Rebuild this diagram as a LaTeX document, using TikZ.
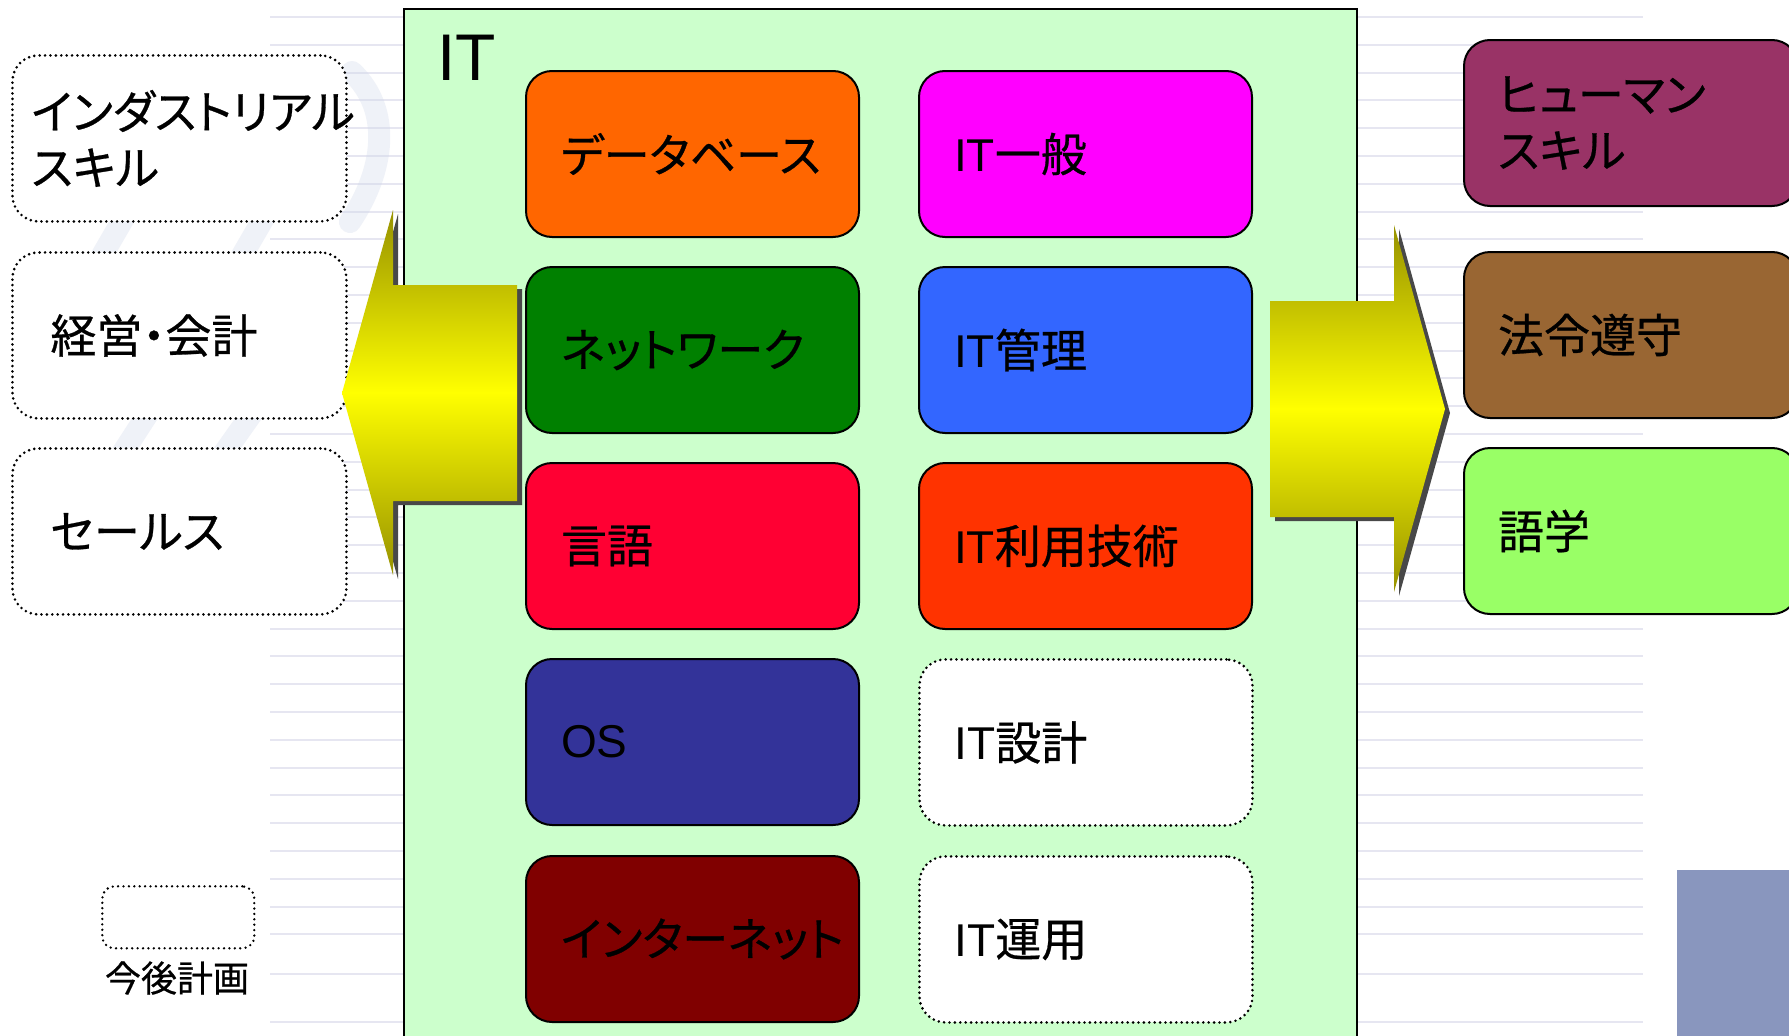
\documentclass[tikz,border=0pt]{standalone}
\usepackage{fontspec}
\setmainfont{Liberation Sans}
\newfontfamily\jp[RawFeature=+palt, FakeBold=0.6]{Noto Sans CJK JP}
\definecolor{itbg}{RGB}{204,255,204}
\definecolor{cdb}{RGB}{255,102,0}
\definecolor{cgen}{RGB}{255,0,255}
\definecolor{cnet}{RGB}{0,128,0}
\definecolor{cmgmt}{RGB}{51,102,255}
\definecolor{clang}{RGB}{255,0,51}
\definecolor{cuse}{RGB}{255,51,0}
\definecolor{cos}{RGB}{51,51,153}
\definecolor{cinet}{RGB}{128,0,0}
\definecolor{chuman}{RGB}{153,51,102}
\definecolor{claw}{RGB}{153,102,51}
\definecolor{cling}{RGB}{153,255,102}
\definecolor{bgline}{RGB}{230,230,241}
\definecolor{swoosh}{RGB}{205,214,232}
\definecolor{arrdark}{RGB}{150,145,0}
\definecolor{arrshadow}{RGB}{72,72,72}
\definecolor{cornerblue}{RGB}{137,150,190}
\newcommand\boxfs{\fontsize{46}{56}\selectfont}
\begin{document}
\begin{tikzpicture}[x=1pt,y=-1pt,
  skillbox/.style={line width=2pt, rounded corners=26pt, minimum width=333pt,
    minimum height=166pt, text width=263pt, inner xsep=35pt, inner ysep=0pt,
    align=left, font=\boxfs, anchor=north west},
  solidbox/.style={skillbox, draw=black},
  planbox/.style={skillbox, draw=black, fill=white, dash pattern=on 0pt off 5.4pt,
    line cap=round, line width=2.9pt},
  bgrule/.style={bgline, line width=2pt},
  swooshline/.style={swoosh, line width=22pt, line cap=round, opacity=0.3},
  arrowshadow/.style={fill=arrshadow},
  arrowbody/.style={top color=arrdark, bottom color=arrdark, middle color=yellow},
]
\useasboundingbox (0,0) rectangle (1789,1036);
\clip (0,0) rectangle (1789,1036);
\fill[white] (0,0) rectangle (1789,1036);

% background rules
\foreach \k in {0,...,33} {
  \draw[bgrule] (270,{17+27.8*\k}) -- (1643,{17+27.8*\k});
}
\draw[bgrule] (270,974) -- (1643,974);
\draw[bgrule] (270,1022) -- (1643,1022);

% faint background swoosh
\draw[swooshline] (352,72) .. controls (392,110) and (385,170) .. (350,222);
\draw[swooshline] (85,285) -- (140,190);
\draw[swooshline] (225,285) -- (280,190);
\draw[swooshline] (105,480) -- (160,395);
\draw[swooshline] (205,480) -- (265,395);

% corner block
\fill[cornerblue] (1677,870) rectangle (1795,1040);

% IT container
\draw[fill=itbg, line width=2.5pt] (404,9) rectangle (1357,1050);
\node[font=\fontsize{66}{70}\selectfont, anchor=base west, inner sep=0pt] (ittitle) at (437,80) {IT};

% IT boxes, column 1
\node[solidbox, fill=cdb]   (db)   at (525,70)  {\jp データベース};
\node[solidbox, fill=cnet]  (net)  at (525,266) {\jp ネットワーク};
\node[solidbox, fill=clang] (lang) at (525,462) {\jp 言語};
\node[solidbox, fill=cos]   (os)   at (525,658) {OS};
\node[solidbox, fill=cinet] (inet) at (525,855) {\jp インターネット};
% column 2
\node[solidbox, fill=cgen]  (gen)  at (918,70)  {IT\jp 一般};
\node[solidbox, fill=cmgmt] (mgmt) at (918,266) {IT\jp 管理};
\node[solidbox, fill=cuse]  (use)  at (918,462) {IT\jp 利用技術};
\node[planbox]              (design) at (918,658) {IT\jp 設計};
\node[planbox]              (ops)  at (918,855) {IT\jp 運用};

% left boxes
\node[planbox, inner xsep=19pt, text width=296pt] (ind) at (11,54) {\jp インダストリアル\\スキル};
\node[planbox, inner xsep=38pt, text width=258pt] (mgt) at (11,251) {\jp 経営・会計};
\node[planbox, inner xsep=38pt, text width=258pt] (sales) at (11,447) {\jp セールス};

% right boxes
\node[solidbox, fill=chuman, inner xsep=34pt, text width=266pt] (human) at (1463,39) {\jp ヒューマン\\スキル};
\node[solidbox, fill=claw, inner xsep=34pt, text width=266pt] (law) at (1463,251) {\jp 法令遵守};
\node[solidbox, fill=cling, inner xsep=34pt, text width=266pt] (langs) at (1463,447) {\jp 語学};

% left arrow (outward)
\fill[arrowshadow, shift={(5,4)}] (342,393) -- (393,210) -- (393,285) -- (517,285)
  -- (517,501) -- (393,501) -- (393,575) -- cycle;
\shade[arrowbody] (342,393) -- (393,210) -- (393,285) -- (517,285)
  -- (517,501) -- (393,501) -- (393,575) -- cycle;

% right arrow (outward)
\fill[arrowshadow, shift={(5,4)}] (1270,301) -- (1394,301) -- (1394,225) -- (1445,409)
  -- (1394,592) -- (1394,517) -- (1270,517) -- cycle;
\shade[arrowbody] (1270,301) -- (1394,301) -- (1394,225) -- (1445,409)
  -- (1394,592) -- (1394,517) -- (1270,517) -- cycle;

% legend
\node[planbox, minimum width=152pt, minimum height=62pt, text width=0pt, inner xsep=0pt,
  rounded corners=12pt, line width=2.6pt] (legendbox) at (101,885) {};
\node[font=\fontsize{36}{40}\selectfont\jp] (legendlbl) at (177,978) {今後計画};
\end{tikzpicture}
\end{document}
